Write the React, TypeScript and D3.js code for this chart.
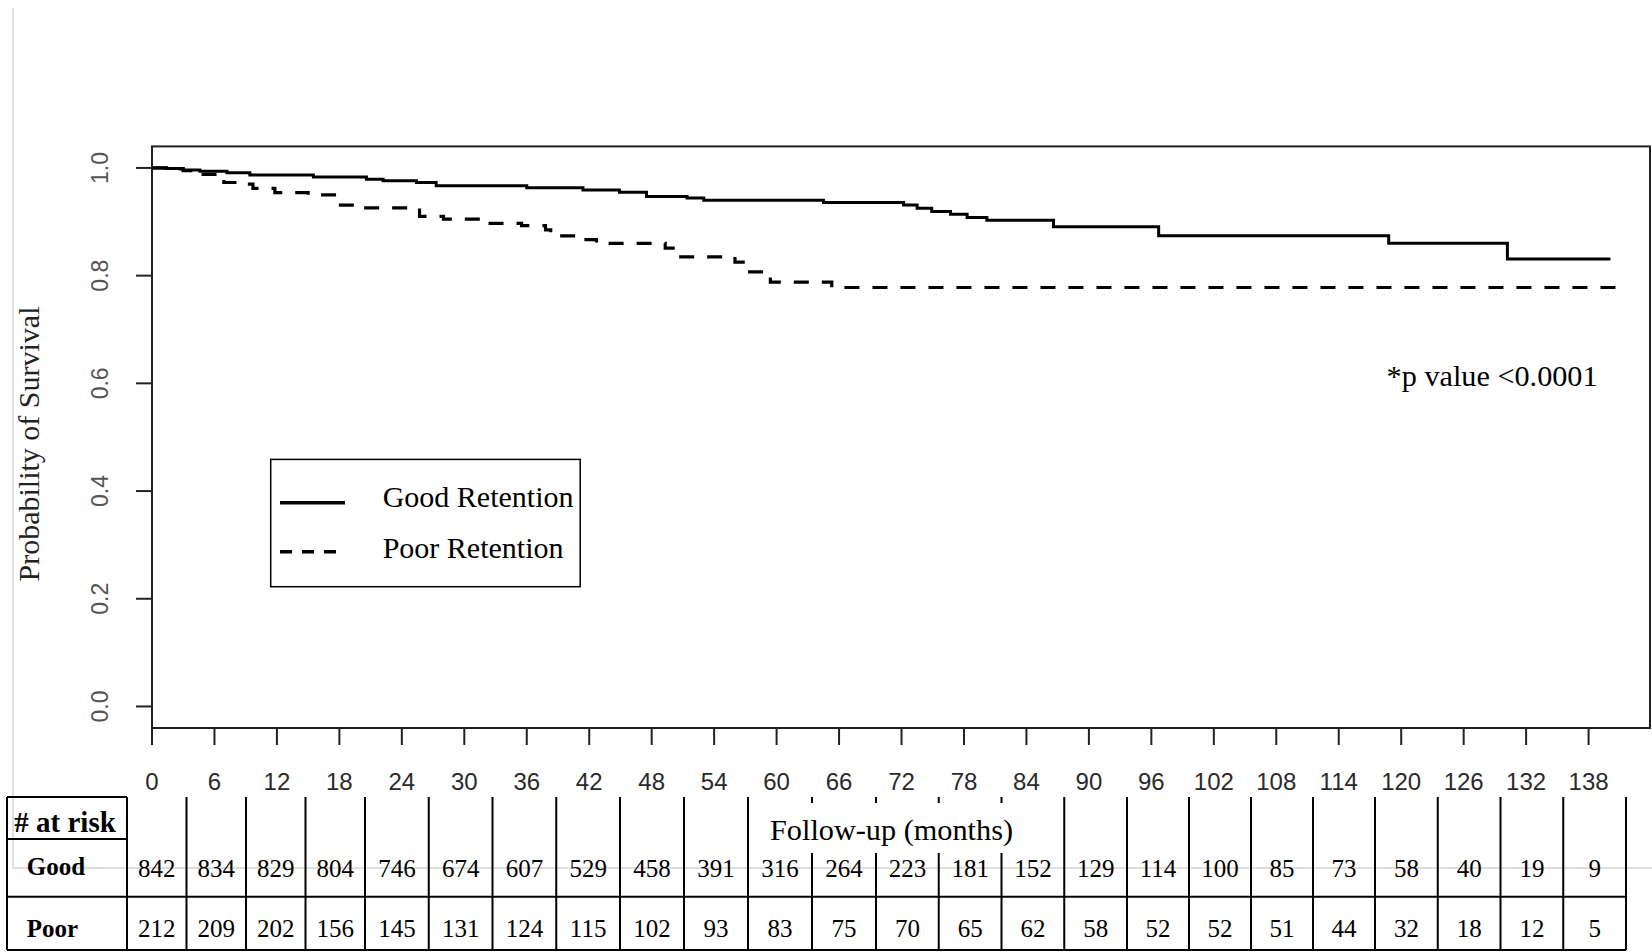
import React from "react";
import * as d3 from "d3";

// follow-up months shown on the x axis
const xTicks = [0, 6, 12, 18, 24, 30, 36, 42, 48, 54, 60, 66, 72, 78, 84, 90, 96, 102, 108, 114, 120, 126, 132, 138];
const yTicks = [0, 0.2, 0.4, 0.6, 0.8, 1.0];

// Kaplan-Meier steps (time in months, survival after the step)
const goodTimes = [0, 1.4, 3.0, 4.6, 7.2, 9.4, 15.5, 20.6, 22.2, 25.4, 27.3, 36.0, 41.4, 44.9, 47.5, 51.4, 53.0, 64.5, 72.2, 73.5, 74.9, 76.7, 78.3, 80.2, 86.6, 96.7, 118.8, 130.2];
const goodSurv = [1.0, 0.999, 0.996, 0.994, 0.991, 0.987, 0.983, 0.979, 0.976, 0.973, 0.967, 0.963, 0.959, 0.955, 0.947, 0.944, 0.94, 0.936, 0.931, 0.925, 0.919, 0.914, 0.908, 0.903, 0.891, 0.874, 0.86, 0.831];
const goodEnd = 140.1;

const poorTimes = [0, 1.4, 3.0, 4.5, 6.9, 9.2, 9.7, 11.8, 15.0, 17.8, 19.5, 25.7, 28.0, 32.3, 35.5, 37.8, 38.3, 41.5, 42.7, 49.3, 50.3, 56.0, 57.0, 59.4, 65.3];
const poorSurv = [1.0, 0.998, 0.995, 0.988, 0.973, 0.97, 0.962, 0.954, 0.95, 0.931, 0.926, 0.91, 0.905, 0.897, 0.893, 0.885, 0.874, 0.867, 0.86, 0.851, 0.835, 0.825, 0.807, 0.788, 0.778];
const poorEnd = 140.9;

// numbers at risk
const goodAtRisk = [842, 834, 829, 804, 746, 674, 607, 529, 458, 391, 316, 264, 223, 181, 152, 129, 114, 100, 85, 73, 58, 40, 19, 9];
const poorAtRisk = [212, 209, 202, 156, 145, 131, 124, 115, 102, 93, 83, 75, 70, 65, 62, 58, 52, 52, 51, 44, 32, 18, 12, 5];

const serif = "'Liberation Serif', 'Times New Roman', serif";
const sans = "'Liberation Sans', Arial, sans-serif";

const W = 1652;
const H = 952;

export default function App() {
  const x = d3.scaleLinear().domain([0, 143.9]).range([152, 1650]);
  const y = d3.scaleLinear().domain([-0.04, 1.04]).range([728, 146.4]);

  // table columns (slightly irregular, as in the source table)
  const col = d3.scaleLinear()
    .domain([0, 4, 8, 12, 16, 20, 24])
    .range([127, 365, 620, 876, 1127, 1375, 1626]);

  const step = d3.line<[number, number]>()
    .x(d => x(d[0]))
    .y(d => y(d[1]))
    .curve(d3.curveStepAfter);

  const goodPts: [number, number][] = goodTimes.map((t, i) => [t, goodSurv[i]]);
  goodPts.push([goodEnd, goodSurv[goodSurv.length - 1]]);
  const poorPts: [number, number][] = poorTimes.map((t, i) => [t, poorSurv[i]]);
  poorPts.push([poorEnd, poorSurv[poorSurv.length - 1]]);

  const fmt = d3.format(".1f");
  const x0 = x(0), x1 = x(143.9), yTop = y(1.04), yBot = y(-0.04);

  const tTop = 797, tHead = 839, tMid = 896.7, tBot = 950;
  const nCols = goodAtRisk.length;

  return (
    <svg width={W} height={H} style={{ position: "absolute", left: 0, top: 0, background: "#fff" }}>
      <rect x={0} y={0} width={W} height={H} fill="#fff" />

      {/* faint page frame */}
      <line x1={13} x2={13} y1={8} y2={868} stroke="#d4d4d4" strokeWidth={1.5} />
      <line x1={13} x2={W} y1={868} y2={868} stroke="#d4d4d4" strokeWidth={1.5} />

      {/* plot box */}
      <rect x={x0} y={yTop} width={x1 - x0} height={yBot - yTop} fill="none" stroke="#222" strokeWidth={2} />

      {/* y axis */}
      {yTicks.map(v => (
        <g key={"y" + v}>
          <line x1={136} x2={x0} y1={y(v)} y2={y(v)} stroke="#222" strokeWidth={2} />
          <text
            transform={`translate(108,${y(v)}) rotate(-90)`}
            textAnchor="middle"
            fontFamily={sans}
            fontSize={23}
            fill="#555"
          >{fmt(v)}</text>
        </g>
      ))}
      <text
        transform="translate(39,444) rotate(-90)"
        textAnchor="middle"
        fontFamily={serif}
        fontSize={30}
        fill="#222"
      >Probability of Survival</text>

      {/* x axis */}
      {xTicks.map(t => (
        <g key={"x" + t}>
          <line x1={x(t)} x2={x(t)} y1={yBot} y2={745} stroke="#222" strokeWidth={2} />
          <text x={x(t)} y={790} textAnchor="middle" fontFamily={sans} fontSize={24} fill="#2a2a2a">{t}</text>
        </g>
      ))}

      {/* survival curves */}
      <path d={step(goodPts) || ""} fill="none" stroke="#000" strokeWidth={3} />
      <path d={step(poorPts) || ""} fill="none" stroke="#000" strokeWidth={3.2} strokeDasharray="15,13" />

      {/* legend */}
      <rect x={270.7} y={459.4} width={309.5} height={127.3} fill="#fff" stroke="#000" strokeWidth={1.5} />
      <line x1={280} x2={345} y1={502.7} y2={502.7} stroke="#000" strokeWidth={3.5} />
      <line x1={280} x2={345} y1={551.7} y2={551.7} stroke="#000" strokeWidth={3.5} strokeDasharray="12,10" />
      <text x={382.7} y={507.3} fontFamily={serif} fontSize={30} fill="#000">Good Retention</text>
      <text x={382.7} y={558.3} fontFamily={serif} fontSize={30} fill="#000">Poor Retention</text>

      <text x={1386.6} y={385.7} fontFamily={serif} fontSize={29} textLength={211} lengthAdjust="spacingAndGlyphs" fill="#000">*p value &lt;0.0001</text>

      {/* at-risk table */}
      <g stroke="#000" strokeWidth={2}>
        <line x1={7} x2={7} y1={tTop} y2={tBot} />
        <line x1={7} x2={col(0)} y1={tTop} y2={tTop} />
        <line x1={7} x2={col(0)} y1={tHead} y2={tHead} />
        <line x1={7} x2={col(nCols)} y1={tMid} y2={tMid} />
        <line x1={7} x2={col(nCols)} y1={tBot} y2={tBot} />
        {d3.range(nCols + 1).map(k => (
          <line key={"c" + k} x1={col(k)} x2={col(k)} y1={tTop} y2={tBot} />
        ))}
      </g>

      {/* axis title sits on a white patch over the table lines */}
      <rect x={766} y={803} width={252} height={50} fill="#fff" />
      <text x={770} y={840} fontFamily={serif} fontSize={30} textLength={243} lengthAdjust="spacingAndGlyphs" fill="#000">Follow-up  (months)</text>

      <text x={14.3} y={831.7} fontFamily={serif} fontWeight="bold" fontSize={29} fill="#000"># at risk</text>
      <text x={26.8} y={875} fontFamily={serif} fontWeight="bold" fontSize={25} fill="#000">Good</text>
      <text x={26.8} y={936.7} fontFamily={serif} fontWeight="bold" fontSize={25} fill="#000">Poor</text>

      {goodAtRisk.map((n, i) => (
        <text key={"g" + i} x={(col(i) + col(i + 1)) / 2} y={876.7} textAnchor="middle" fontFamily={serif} fontSize={25} fill="#000">{n}</text>
      ))}
      {poorAtRisk.map((n, i) => (
        <text key={"p" + i} x={(col(i) + col(i + 1)) / 2} y={936.7} textAnchor="middle" fontFamily={serif} fontSize={25} fill="#000">{n}</text>
      ))}
    </svg>
  );
}
